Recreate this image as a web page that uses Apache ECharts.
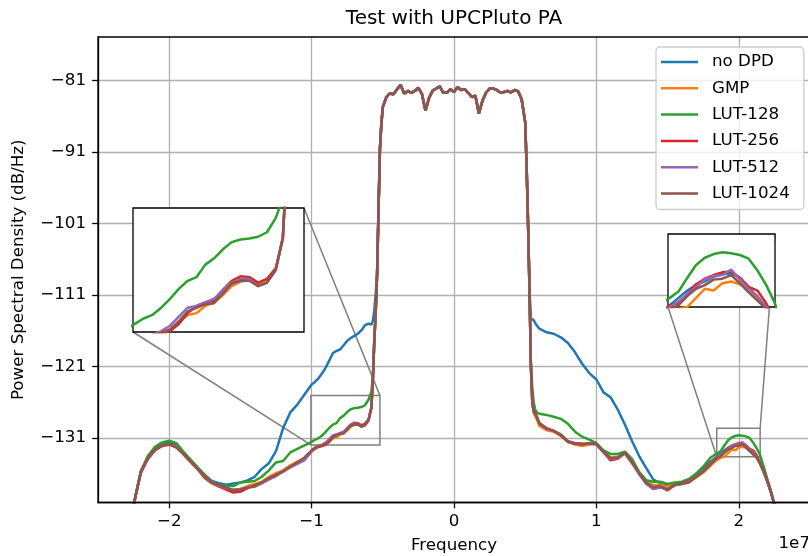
<!DOCTYPE html>
<html>
<head>
<meta charset="utf-8">
<script src="https://cdn.jsdelivr.net/npm/echarts@6/dist/echarts.min.js"></script>
<style>
html, body { margin: 0; padding: 0; overflow: hidden; background: #fff; }
#chart { width: 812px; height: 556px; }
</style>
</head>
<body>
<div id="chart"></div>
<script>
// Frequency grid in MHz (axis labels are shown in units of 1e7 Hz)
const freqLeft = [-22.5,-22,-21.5,-21,-20.5,-20,-19.5,-19,-18.5,-18,-17.5,-17,-16.5,-16,-15.5,-15,-14.5,-14,-13.5,-13,-12.5,-12,-11.5,-11,
  -10.5,-10.25,-10,-9.75,-9.5,-9.25,-9,-8.75,-8.5,-8.25,-8,-7.75,-7.5,-7.25,-7,-6.75,-6.5,-6.25,-6,
  -5.8,-5.7,-5.6,-5.5];
const freqBand = [-5.4,-5.3,-5.2,-5.1,-5,-4.75,-4.5,-4.25,-4,-3.75,-3.5,-3.25,-3,-2.75,-2.5,-2.25,-2,-1.75,-1.5,-1.25,-1,-0.75,-0.5,-0.25,
  0,0.25,0.5,0.75,1,1.25,1.5,1.75,2,2.25,2.5,2.75,3,3.25,3.5,3.75,4,4.25,4.5,4.75,5,5.1,5.2,5.3];
const freqRight = [5.4,5.5,5.6,5.7,5.8,6,6.5,7,7.5,8,8.5,9,9.5,10,10.5,11,11.5,12,12.5,13,13.5,14,14.5,15,15.5,16,16.5,17,17.5,18,
  18.25,18.5,18.75,19,19.25,19.5,19.75,20,20.25,20.5,20.75,21,21.25,21.5,21.75,22,22.25,22.5];

// In-band PSD, common to every configuration (dB/Hz)
const passband = [-108.0,-99.0,-90.5,-87.0,-84.7,-83.3,-82.8,-82.9,-82.2,-81.6,-82.8,-82.45,-82.7,-82.45,-82.0,-82.9,-85.2,-83.4,-82.4,-82.1,
  -81.8,-82.7,-82.7,-82.2,-82.6,-81.9,-82.3,-82.2,-82.7,-83.3,-83.1,-85.6,-83.8,-82.7,-82.1,-82.1,-82.3,-82.65,-82.6,-82.45,-82.65,-82.3,-82.5,-83.6,
  -86.8,-93.0,-101.0,-110.0];

// Lower adjacent band per configuration
const noDpdLeft = [-140.3,-135.9,-133.6,-132.4,-131.8,-131.5,-131.9,-133.0,-134.1,-135.2,-136.2,-137.0,-137.3,-137.5,-137.35,-137.2,-136.9,-136.4,-135.3,-134.5,-132.8,-129.6,-127.4,-126.3,
  -124.9,-124.2,-123.5,-123.1,-122.6,-121.9,-121.1,-120.1,-119.1,-118.8,-118.6,-118.0,-117.4,-117.0,-116.7,-116.4,-115.9,-115.2,-115.0,
  -115.1,-114.6,-113.2,-110.8];
const gmpLeft = [-140.4,-135.9,-133.9,-132.7,-132.1,-131.9,-132.2,-133.3,-134.4,-135.4,-136.6,-137.3,-137.8,-138.1,-138.2,-138.1,-137.7,-137.4,-137.1,-136.4,-135.9,-135.5,-134.8,-134.3,
  -133.8,-133.3,-132.8,-132.5,-132.2,-132.0,-131.8,-131.4,-131.0,-130.9,-130.5,-130.3,-129.9,-129.4,-129.15,-129.05,-129.3,-129.0,-128.4,
  -126.8,-123.0,-117.5,-113.5];
const lut128Left = [-140.3,-135.6,-133.5,-132.2,-131.6,-131.35,-131.7,-132.9,-134.0,-135.1,-136.1,-137.1,-137.6,-137.7,-137.7,-137.2,-137.1,-137.0,-136.4,-135.5,-134.4,-134.2,-133.0,-132.5,
  -132.0,-131.8,-131.5,-131.2,-131.0,-130.6,-130.1,-129.55,-129.1,-128.9,-128.2,-127.85,-127.35,-126.95,-126.8,-126.75,-126.65,-126.4,-125.6,
  -124.5,-122.5,-117.5,-113.5];
const lut256Left = [-140.4,-135.8,-133.9,-132.7,-132.1,-131.9,-132.3,-133.2,-134.3,-135.3,-136.5,-137.3,-137.7,-138.2,-138.6,-138.5,-138.0,-137.6,-137.3,-136.7,-136.1,-135.7,-135.0,-134.4,
  -133.9,-133.4,-132.8,-132.4,-132.2,-132.1,-131.9,-131.5,-130.9,-130.5,-130.3,-130.2,-129.6,-129.1,-128.85,-128.9,-129.2,-129.0,-128.4,
  -126.7,-123.0,-117.5,-113.5];
const lut512Left = [-140.4,-135.8,-133.8,-132.6,-132.0,-131.8,-132.3,-133.2,-134.3,-135.3,-136.4,-137.2,-137.6,-138.0,-138.2,-138.1,-137.9,-137.8,-137.3,-136.8,-136.3,-135.7,-135.1,-134.6,
  -134.1,-133.5,-132.9,-132.4,-132.1,-131.9,-131.6,-131.1,-130.6,-130.5,-130.3,-130.1,-129.6,-129.2,-129.0,-129.0,-129.4,-129.2,-128.5,
  -126.7,-123.0,-117.5,-113.5];
const lut1024Left = [-140.4,-135.8,-133.8,-132.6,-132.0,-131.8,-132.3,-133.2,-134.2,-135.3,-136.4,-137.2,-137.5,-137.9,-138.3,-138.2,-137.9,-137.7,-137.2,-136.6,-136.2,-135.6,-135.0,-134.4,
  -133.7,-133.2,-132.7,-132.3,-132.1,-132.0,-131.8,-131.35,-130.8,-130.6,-130.4,-130.35,-129.8,-129.25,-129.1,-129.1,-129.4,-129.2,-128.5,
  -126.7,-123.0,-117.5,-113.5];

// Upper adjacent band per configuration
const noDpdRight = [-114.3,-114.4,-114.5,-114.9,-115.2,-115.7,-116.2,-116.4,-116.9,-117.7,-119.0,-120.6,-121.9,-122.8,-124.6,-125.3,-127.0,-129.1,-131.4,-133.5,
  -135.2,-136.8,-137.3,-137.6,-137.3,-137.2,-136.9,-136.2,-135.3,-134.3,
  -133.9,-133.5,-133.1,-132.7,-132.4,-132.2,-131.95,-131.8,-131.75,-132.0,-132.5,-133.1,-133.6,-134.5,-135.6,-136.9,-138.4,-140.3];
const gmpRight = [-121.0,-126.2,-127.5,-127.9,-128.3,-129.3,-129.9,-130.1,-130.7,-131.5,-131.9,-132.1,-131.9,-131.8,-132.8,-133.7,-133.6,-133.1,-134.2,-135.8,
  -137.0,-137.6,-137.5,-137.8,-137.4,-137.2,-137.1,-136.5,-135.8,-134.9,
  -134.4,-134.0,-133.7,-133.6,-133.1,-132.6,-132.7,-132.3,-132.2,-132.35,-132.6,-133.2,-133.7,-134.6,-135.8,-137.1,-138.6,-140.3];
const lut128Right = [-120.5,-124.0,-126.0,-127.0,-127.4,-127.6,-127.75,-128.0,-128.3,-129.0,-130.1,-130.8,-131.2,-131.7,-132.7,-133.2,-133.2,-132.9,-133.9,-135.7,
  -136.9,-137.1,-137.1,-137.4,-137.2,-137.1,-136.7,-135.95,-135.0,-133.75,
  -133.4,-133.1,-132.75,-132.0,-131.3,-130.9,-130.7,-130.6,-130.65,-130.75,-130.95,-131.6,-132.4,-133.4,-135.0,-136.7,-138.4,-140.2];
const lut256Right = [-121.0,-126.0,-127.2,-127.5,-127.9,-128.9,-129.6,-130.0,-130.6,-131.5,-131.8,-131.9,-131.7,-131.8,-133.0,-134.1,-133.9,-133.1,-134.5,-136.0,
  -137.3,-138.1,-137.8,-138.3,-137.6,-137.3,-137.0,-136.4,-135.6,-134.5,
  -134.0,-133.5,-133.4,-132.9,-132.35,-132.05,-131.85,-131.7,-131.65,-132.0,-132.5,-132.7,-133.4,-134.4,-135.6,-137.0,-138.5,-140.3];
const lut512Right = [-121.0,-126.0,-127.3,-127.6,-128.0,-129.0,-129.7,-130.0,-130.5,-131.4,-131.7,-131.8,-131.8,-131.9,-133.0,-133.9,-133.8,-133.1,-134.4,-136.0,
  -137.4,-138.1,-137.9,-138.1,-137.6,-137.4,-137.1,-136.4,-135.6,-134.6,
  -134.1,-133.6,-133.3,-132.9,-132.5,-132.1,-131.9,-131.85,-131.55,-132.1,-132.6,-133.0,-133.6,-134.5,-135.7,-137.0,-138.5,-140.3];
const lut1024Right = [-121.0,-126.0,-127.3,-127.6,-127.9,-129.0,-129.7,-129.95,-130.5,-131.5,-131.7,-131.8,-131.8,-131.8,-132.9,-133.8,-133.7,-133.0,-134.3,-135.9,
  -137.2,-137.9,-137.7,-138.2,-137.5,-137.4,-137.2,-136.45,-135.7,-134.7,
  -134.2,-133.75,-133.5,-133.0,-132.6,-132.4,-132.1,-132.05,-131.85,-132.3,-132.8,-133.25,-133.7,-134.6,-135.7,-137.0,-138.5,-140.3];

const seriesNames = ['no DPD', 'GMP', 'LUT-128', 'LUT-256', 'LUT-512', 'LUT-1024'];
const seriesColors = ['#1f77b4', '#ff7f0e', '#2ca02c', '#d62728', '#9467bd', '#8c564b'];
const leftParts = [noDpdLeft, gmpLeft, lut128Left, lut256Left, lut512Left, lut1024Left];
const rightParts = [noDpdRight, gmpRight, lut128Right, lut256Right, lut512Right, lut1024Right];

const xTicks = [-20, -10, 0, 10, 20];           // MHz
const yTicks = [-131, -121, -111, -101, -91, -81];
const xRange = [-25, 25];
const yRange = [-140, -74.9];

// Zoom windows shown in the two magnified insets
const zoomLeftX = [-10.05, -5.2], zoomLeftY = [-131.95, -125.05];
const zoomRightX = [18.45, 21.5], zoomRightY = [-133.6, -129.6];

const FONT = 'DejaVu Sans';
const freq = freqLeft.concat(freqBand, freqRight);

function buildSeries(i) {
  const vals = leftParts[i].concat(passband, rightParts[i]);
  const n = Math.min(freq.length, vals.length);
  const out = [];
  for (let k = 0; k < n; k++) out.push([freq[k], vals[k]]);
  return out;
}
const seriesData = seriesNames.map((_, i) => buildSeries(i));

const minus = v => (v < 0 ? '\u2212' : '') + Math.abs(v);

const mainGrid = { left: 98, top: 37, width: 712, height: 465.5 };
const insetLeftGrid = { left: 133, top: 208, width: 171, height: 124 };
const insetRightGrid = { left: 668, top: 234, width: 107, height: 73 };

const chart = echarts.init(document.getElementById('chart'), null, { renderer: 'canvas', devicePixelRatio: 1 });

function gridOpt(g, z, bg) {
  return Object.assign({}, g, {
    show: true, z: z, backgroundColor: bg, borderColor: '#000', borderWidth: 1.3, containLabel: false
  });
}
function hiddenAxis(grid, range) {
  return { type: 'value', gridIndex: grid, min: range[0], max: range[1], show: false, z: 21 };
}

const series = [];
seriesNames.forEach((name, i) => {
  series.push({
    type: 'line', name: name, data: seriesData[i], xAxisIndex: 0, yAxisIndex: 0,
    symbol: 'none', showSymbol: false, clip: true, z: 2, animation: false,
    lineStyle: { width: 2.5, color: seriesColors[i] }, itemStyle: { color: seriesColors[i] }
  });
});
[1, 2].forEach(gi => {
  seriesNames.forEach((name, i) => {
    series.push({
      type: 'line', name: name, data: seriesData[i], xAxisIndex: gi, yAxisIndex: gi,
      symbol: 'none', showSymbol: false, clip: true, z: 22, animation: false,
      lineStyle: { width: 2.5, color: seriesColors[i] }, itemStyle: { color: seriesColors[i] }
    });
  });
});

const option = {
  animation: false,
  backgroundColor: '#fff',
  textStyle: { fontFamily: FONT },
  grid: [gridOpt(mainGrid, 3, 'transparent'), gridOpt(insetLeftGrid, 20, '#fff'), gridOpt(insetRightGrid, 20, '#fff')],
  xAxis: [
    {
      type: 'value', gridIndex: 0, min: xRange[0], max: xRange[1],
      axisLine: { show: true, onZero: false, lineStyle: { color: '#000', width: 1.3 } },
      axisTick: { show: true, inside: false, length: 5.8, customValues: xTicks, lineStyle: { color: '#000', width: 1.3 } },
      axisLabel: { show: true, customValues: xTicks, margin: 11, color: '#000', fontSize: 16.7, fontFamily: FONT,
        formatter: v => minus(Math.round(v / 10)) },
      splitLine: { show: true, lineStyle: { color: '#b0b0b0', width: 1.3 } }
    },
    hiddenAxis(1, zoomLeftX),
    hiddenAxis(2, zoomRightX)
  ],
  yAxis: [
    {
      type: 'value', gridIndex: 0, min: yRange[0], max: yRange[1],
      axisLine: { show: true, onZero: false, lineStyle: { color: '#000', width: 1.3 } },
      axisTick: { show: true, inside: false, length: 5.8, customValues: yTicks, lineStyle: { color: '#000', width: 1.3 } },
      axisLabel: { show: true, customValues: yTicks, margin: 12, color: '#000', fontSize: 16.7, fontFamily: FONT,
        formatter: v => minus(v) },
      splitLine: { show: true, lineStyle: { color: '#b0b0b0', width: 1.3 } }
    },
    hiddenAxis(1, zoomLeftY),
    hiddenAxis(2, zoomRightY)
  ],
  legend: {
    show: true, orient: 'vertical', left: 656, top: 47, z: 30,
    data: seriesNames.map(n => ({ name: n, icon: 'rect' })),
    itemWidth: 37, itemHeight: 2.5, itemGap: 6.3,
    padding: [5, 14, 6, 5],
    backgroundColor: 'rgba(255,255,255,0.8)', borderColor: '#cccccc', borderWidth: 1.3, borderRadius: 4,
    textStyle: { fontFamily: FONT, fontSize: 16.7, color: '#000', lineHeight: 20, padding: [0, 0, 0, 9] }
  },
  series: series
};
chart.setOption(option);

// Frame of each zoom window on the main axes plus the connector lines to the insets
function px(gi, x, y) { return chart.convertToPixel({ gridIndex: gi }, [x, y]); }
function zoomDecor(gi, xr, yr) {
  const tl = px(0, xr[0], yr[1]), br = px(0, xr[1], yr[0]);
  const insetLL = px(gi, xr[0], yr[0]), insetUR = px(gi, xr[1], yr[1]);
  const stroke = { stroke: '#808080', lineWidth: 1.5, fill: null };
  return [
    { type: 'rect', z: 1, silent: true, shape: { x: tl[0], y: tl[1], width: br[0] - tl[0], height: br[1] - tl[1] }, style: Object.assign({}, stroke, { fill: 'none' }) },
    { type: 'line', z: 1, silent: true, shape: { x1: insetLL[0], y1: insetLL[1], x2: tl[0], y2: br[1] }, style: stroke },
    { type: 'line', z: 1, silent: true, shape: { x1: insetUR[0], y1: insetUR[1], x2: br[0], y2: tl[1] }, style: stroke }
  ];
}
const cx = mainGrid.left + mainGrid.width / 2;
const texts = [
  { type: 'text', z: 40, silent: true, x: cx, y: 19, style: { text: 'Test with UPCPluto PA', fontFamily: FONT, fontSize: 20, fill: '#000', align: 'center', verticalAlign: 'middle', textAlign: 'center', textVerticalAlign: 'middle' } },
  { type: 'text', z: 40, silent: true, x: cx, y: 546, style: { text: 'Frequency', fontFamily: FONT, fontSize: 16.7, fill: '#000', align: 'center', verticalAlign: 'middle', textAlign: 'center', textVerticalAlign: 'middle' } },
  { type: 'text', z: 40, silent: true, x: mainGrid.left + mainGrid.width, y: 543.5, style: { text: '1e7', fontFamily: FONT, fontSize: 16.7, fill: '#000', align: 'right', verticalAlign: 'middle', textAlign: 'right', textVerticalAlign: 'middle' } },
  { type: 'text', z: 40, silent: true, x: 18.5, y: mainGrid.top + mainGrid.height / 2, rotation: Math.PI / 2, style: { text: 'Power Spectral Density (dB/Hz)', fontFamily: FONT, fontSize: 16.7, fill: '#000', align: 'center', verticalAlign: 'middle', textAlign: 'center', textVerticalAlign: 'middle' } }
];
chart.setOption({
  graphic: { elements: zoomDecor(1, zoomLeftX, zoomLeftY).concat(zoomDecor(2, zoomRightX, zoomRightY), texts) }
});
</script>
</body>
</html>
